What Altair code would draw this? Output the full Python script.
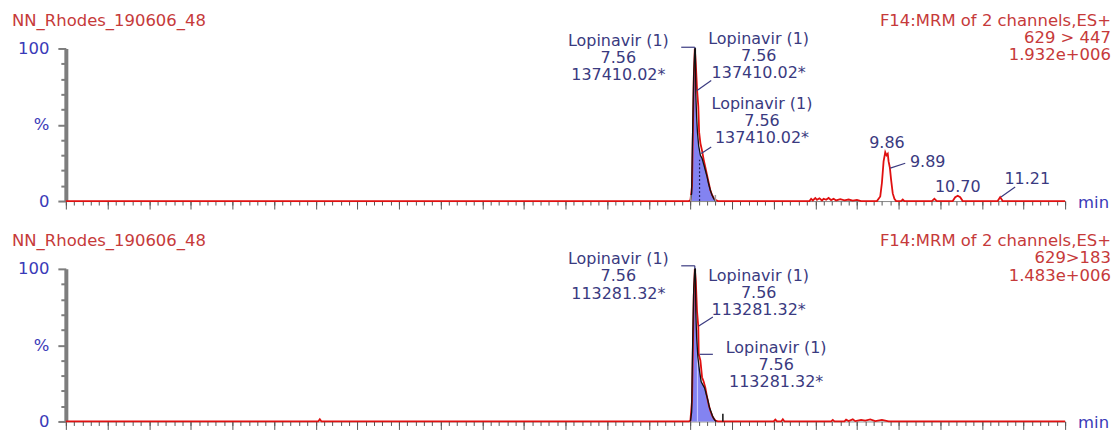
import altair as alt
import pandas as pd

FONT = "DejaVu Sans"
FS = 16.5
LFS = 16
RED_TXT = "#c63a3a"
NAVY = "#3a3a80"
BLUE = "#3a3ab8"
AXIS_GRAY = "#7d7d7d"
TICK_GRAY = "#555555"
TRACE_RED = "#e01010"
FILL_BLUE = "#7c7cf0"
PLOT_W = 1002
PLOT_H = 153

# ---------------- data: top panel (629 > 447) ----------------
top_trace_t = [0.0, 7.48, 7.50, 7.52, 7.54, 7.553, 7.565, 7.58, 7.595, 7.605, 7.62, 7.64, 7.66, 7.68, 7.70, 7.72,
               7.74, 7.76, 7.78, 7.80, 7.83,
               8.93, 8.95, 8.97, 9.00, 9.02, 9.05, 9.08, 9.10, 9.13, 9.16, 9.19, 9.22, 9.25, 9.30, 9.35, 9.40,
               9.45, 9.50, 9.55,
               9.74, 9.78, 9.80, 9.82, 9.84, 9.855, 9.87, 9.88, 9.895, 9.91, 9.93, 9.95, 9.97,
               10.03, 10.05, 10.07,
               10.40, 10.43, 10.46,
               10.65, 10.68, 10.71, 10.74, 10.77,
               11.19, 11.22, 11.25,
               12.0]
top_trace_v = [0, 0, 0.5, 10, 80, 100, 90, 73, 62, 45, 38, 33, 27, 22, 17, 12,
               7, 4, 2, 0.8, 0,
               0, 1.5, 0.4, 2, 0.8, 1.8, 0.4, 1.5, 0.8, 2, 0.6, 1.5, 0.4, 1.2, 0.4, 1,
               0.3, 0.8, 0,
               0, 3, 12, 26, 32, 30, 31, 26, 22, 14, 5, 1.5, 0,
               0, 1, 0,
               0, 1.5, 0,
               0, 2.5, 3.5, 2.5, 0,
               0, 2.6, 0,
               0]
top_peak_t = [7.50, 7.515, 7.525, 7.54, 7.553, 7.56, 7.565, 7.575, 7.585, 7.60, 7.62, 7.64, 7.66, 7.68, 7.70,
              7.72, 7.74, 7.76, 7.78, 7.80]
top_peak_v = [0, 5, 40, 83, 100, 100, 70, 55, 45, 36, 30, 28, 24, 20, 16,
              11, 7, 4, 1.5, 0]
top_lab_text = ["Lopinavir (1)\n7.56\n137410.02*", "Lopinavir (1)\n7.56\n137410.02*",
                "Lopinavir (1)\n7.56\n137410.02*", "9.86", "9.89", "10.70", "11.21"]
top_lab_x = [6.635, 8.32, 8.36, 9.86, 10.35, 10.71, 11.545]
top_lab_y = [105.2, 106.3, 63.9, 38.1, 25.7, 9.0, 14.2]
top_lead_x1 = [7.39, 7.553, 7.75, 7.75, 10.08, 11.40]
top_lead_y1 = [100.8, 100.8, 79.0, 35.5, 24.8, 9.2]
top_lead_x2 = [7.553, 7.553, 7.58, 7.63, 9.90, 11.23]
top_lead_y2 = [100.8, 100.0, 72.5, 31.2, 21.6, 2.6]
top_mark_t = [7.505, 7.80]
top_mark_h = [4.0, 4.0]
top_inner_t = [7.61]
top_inner_h = [27.0]

# ---------------- data: bottom panel (629>183) ----------------
bot_trace_t = [0.0, 3.03, 3.05, 3.07, 7.48, 7.50, 7.52, 7.54, 7.553, 7.565, 7.58, 7.595, 7.60, 7.62, 7.64, 7.66,
               7.68, 7.70, 7.72, 7.74, 7.76, 7.78, 7.80, 7.83,
               8.50, 8.52, 8.54, 8.59, 8.61, 8.63, 9.19, 9.21, 9.23, 9.35, 9.37, 9.40, 9.45, 9.48, 9.55,
               9.60, 9.66, 9.72, 9.80, 9.88, 12.0]
bot_trace_v = [0, 0, 1.5, 0, 0, 0.5, 14, 82, 100, 92, 72, 62, 44, 40, 29, 26,
               22, 16, 11, 7, 4, 2, 0.6, 0,
               0, 1.2, 0, 0, 1.5, 0, 0, 1, 0, 0, 1.2, 0.3, 1.4, 0.2, 1,
               0.5, 1.3, 0.2, 1, 0, 0]
bot_peak_t = [7.50, 7.515, 7.525, 7.54, 7.553, 7.56, 7.565, 7.575, 7.59, 7.61, 7.63, 7.65, 7.67, 7.69, 7.71,
              7.73, 7.75, 7.77, 7.79, 7.81]
bot_peak_v = [0, 6, 45, 87, 100, 100, 72, 55, 42, 33, 26, 24, 22, 18, 14,
              9, 6, 3, 1, 0]
bot_lab_text = ["Lopinavir (1)\n7.56\n113281.32*", "Lopinavir (1)\n7.56\n113281.32*",
                "Lopinavir (1)\n7.56\n113281.32*"]
bot_lab_x = [6.635, 8.32, 8.53]
bot_lab_y = [106.4, 95.4, 48.2]
bot_lead_x1 = [7.39, 7.553, 7.77, 7.61]
bot_lead_y1 = [102.0, 102.0, 68.4, 44.0]
bot_lead_x2 = [7.553, 7.553, 7.60, 7.77]
bot_lead_y2 = [102.0, 100.0, 62.5, 44.0]
bot_mark_t = [7.89]
bot_mark_h = [5.0]
bot_inner_t = [7.585]
bot_inner_h = [60.0]

x_major = [i * 0.5 for i in range(25)]
x_minor = [i / 10 for i in range(121)]
y_major = [0, 50, 100]
y_minor = [10, 20, 30, 40, 60, 70, 80, 90]

xs = alt.Scale(domain=[0, 12], nice=False, zero=False)
ys = alt.Scale(domain=[0, 100], nice=False, zero=True)

x_major_axis = alt.Axis(values=x_major, tickSize=8, labels=False, title=None, grid=False, orient="bottom",
                        domain=True, domainColor="#8a8a8a", domainWidth=1, tickColor=TICK_GRAY, tickWidth=1)
x_minor_axis = alt.Axis(values=x_minor, tickSize=4, labels=False, title=None, grid=False, orient="bottom",
                        domain=False, tickColor=TICK_GRAY, tickWidth=1)
y_major_axis = alt.Axis(values=y_major, tickSize=8, title=None, grid=False, orient="left",
                        labelExpr="datum.value == 50 ? '%' : datum.label",
                        labelColor=BLUE, labelFont=FONT, labelFontSize=FS, labelPadding=9,
                        domain=True, domainColor=AXIS_GRAY, domainWidth=4, tickColor=AXIS_GRAY, tickWidth=2)
y_minor_axis = alt.Axis(values=y_minor, tickSize=5, labels=False, title=None, grid=False, orient="left",
                        domain=False, tickColor=AXIS_GRAY, tickWidth=2)


def panel(trace_t, trace_v, peak_t, peak_v, lab_text, lab_x, lab_y, lx1, ly1, lx2, ly2,
          mark_t, mark_h, mark_color, inner_t, inner_h, inner_color, inner_dash, title, header):
    trace_df = pd.DataFrame({"t": trace_t, "v": trace_v})
    peak_df = pd.DataFrame({"t": peak_t, "v": peak_v})
    lab_df = pd.DataFrame({"txt": lab_text, "x": lab_x, "y": lab_y})
    lead_df = pd.DataFrame({"x1": lx1, "y1": ly1, "x2": lx2, "y2": ly2})
    mark_df = pd.DataFrame({"t": mark_t, "b": [0] * len(mark_t), "h": mark_h})
    inner_df = pd.DataFrame({"t": inner_t, "b": [0] * len(inner_t), "h": inner_h})

    area = alt.Chart(peak_df).mark_area(color=FILL_BLUE, opacity=0.95).encode(
        x=alt.X("t:Q", scale=xs, axis=x_major_axis),
        y=alt.Y("v:Q", scale=ys, axis=y_major_axis))
    inner = alt.Chart(inner_df).mark_rule(color=inner_color, strokeWidth=1.2, strokeDash=inner_dash).encode(
        x=alt.X("t:Q", scale=xs, axis=None), y=alt.Y("b:Q", scale=ys, axis=None), y2="h:Q")
    red = alt.Chart(trace_df).mark_line(color=TRACE_RED, strokeWidth=1.8).encode(
        x=alt.X("t:Q", scale=xs, axis=x_minor_axis),
        y=alt.Y("v:Q", scale=ys, axis=y_minor_axis))
    black = alt.Chart(peak_df).mark_line(color="#111111", strokeWidth=1.3).encode(
        x=alt.X("t:Q", scale=xs, axis=None), y=alt.Y("v:Q", scale=ys, axis=None))
    marks = alt.Chart(mark_df).mark_rule(color=mark_color, strokeWidth=1.5).encode(
        x=alt.X("t:Q", scale=xs, axis=None), y=alt.Y("b:Q", scale=ys, axis=None), y2="h:Q")
    leads = alt.Chart(lead_df).mark_rule(color=NAVY, strokeWidth=1.2).encode(
        x=alt.X("x1:Q", scale=xs, axis=None), y=alt.Y("y1:Q", scale=ys, axis=None),
        x2="x2:Q", y2="y2:Q")
    labels = alt.Chart(lab_df).mark_text(font=FONT, fontSize=LFS, color=NAVY, align="center",
                                         baseline="middle", lineBreak="\n", lineHeight=17.3).encode(
        x=alt.X("x:Q", scale=xs, axis=None), y=alt.Y("y:Q", scale=ys, axis=None), text="txt:N")
    title_df = pd.DataFrame({"txt": [title]})
    ttl = alt.Chart(title_df).mark_text(font=FONT, fontSize=FS, color=RED_TXT, align="left",
                                        baseline="middle").encode(
        x=alt.value(-54), y=alt.value(-28), text="txt:N")
    head_df = pd.DataFrame({"txt": [header]})
    head = alt.Chart(head_df).mark_text(font=FONT, fontSize=FS, color=RED_TXT, align="right",
                                        baseline="middle", lineBreak="\n", lineHeight=17.5).encode(
        x=alt.value(PLOT_W + 46), y=alt.value(-28), text="txt:N")
    min_df = pd.DataFrame({"txt": ["min"]})
    mn = alt.Chart(min_df).mark_text(font=FONT, fontSize=FS, color=BLUE, align="left",
                                     baseline="middle").encode(
        x=alt.value(PLOT_W + 13), y=alt.value(PLOT_H + 2), text="txt:N")
    return alt.layer(area, inner, red, black, marks, leads, labels, ttl, head, mn).resolve_axis(
        x="independent", y="independent").properties(width=PLOT_W, height=PLOT_H)


top = panel(top_trace_t, top_trace_v, top_peak_t, top_peak_v, top_lab_text, top_lab_x, top_lab_y,
            top_lead_x1, top_lead_y1, top_lead_x2, top_lead_y2,
            top_mark_t, top_mark_h, "#a0a0a0", top_inner_t, top_inner_h, "#20205a", [2, 2],
            "NN_Rhodes_190606_48", "F14:MRM of 2 channels,ES+\n629 > 447\n1.932e+006")
bottom = panel(bot_trace_t, bot_trace_v, bot_peak_t, bot_peak_v, bot_lab_text, bot_lab_x, bot_lab_y,
               bot_lead_x1, bot_lead_y1, bot_lead_x2, bot_lead_y2,
               bot_mark_t, bot_mark_h, "#111111", bot_inner_t, bot_inner_h, "#c8c8ff", [1, 0],
               "NN_Rhodes_190606_48", "F14:MRM of 2 channels,ES+\n629>183\n1.483e+006")

chart = alt.vconcat(top, bottom, spacing=21).properties(
    padding={"left": 4, "top": 4, "right": 0, "bottom": 0}
).configure_view(stroke=None)

chart.save("out.html", embed_options={"renderer": "svg", "actions": False})
